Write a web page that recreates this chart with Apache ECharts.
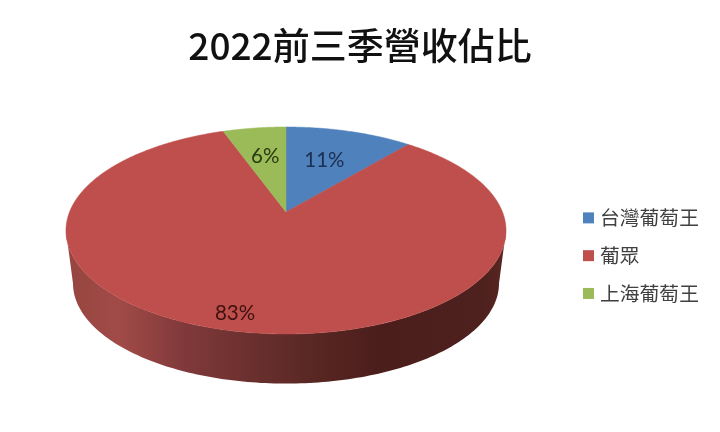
<!DOCTYPE html>
<html>
<head>
<meta charset="utf-8">
<style>html,body{margin:0;padding:0;background:#fff}#c{width:720px;height:432px}</style>
<script src="https://cdn.jsdelivr.net/npm/echarts@6/dist/echarts.min.js"></script>
</head>
<body>
<div id="c"></div>
<script>
const titleText = '2022前三季營收佔比';
const sliceNames = ['台灣葡萄王', '葡眾', '上海葡萄王'];
const sliceValues = [11.1, 83.4, 5.5];
const sliceColors = ['#4F81BD', '#BE4F4C', '#9BBB59'];
const labelColors = ['#1c2f50', '#3f1210', '#2b3a12'];
const labelRadius = [0.6, 0.88, 0.62];
const labelTurn = [-1, 3, 0];

/* perspective pie geometry */
const cx = 286, apexY = 212, kx = 216.5, ky = 100.2, persp = 0.1787;
const wallDrop = 53.5, wallScale = 0.968;
const total = sliceValues.reduce((a, b) => a + b, 0);
const rad = d => d * Math.PI / 180;
function project(deg, r, drop, scale) {
  const X = r * Math.sin(rad(deg)), Y = r * Math.cos(rad(deg)), w = 1 + persp * Y;
  return [cx + scale * kx * X / w, apexY + drop - scale * ky * Y / w];
}
const silhouette = Math.acos(-persp) * 180 / Math.PI;
const wallOffsets = [0, 0.12, 0.27, 0.42, 0.57, 0.72, 0.95, 1];
const wallColors = ['#96453f', '#a14b48', '#80393a', '#6a302e', '#582623', '#4b1e1b', '#4e211e', '#5a2623'];
function startOf(i) {
  let s = 0;
  for (let j = 0; j < i; j++) s += sliceValues[j];
  return s / total * 360;
}
function makeRender(i) {
  return function (params, api) {
    const v = api.value(0);
    const a0 = startOf(i), a1 = a0 + v / total * 360;
    const children = [];
    /* wall: the front part of the rim */
    const w0 = Math.max(a0, silhouette), w1 = Math.min(a1, 360 - silhouette);
    if (w1 > w0) {
      const pts = [];
      for (let a = w0; a < w1; a += 1) pts.push(project(a, 1, 0, 1));
      pts.push(project(w1, 1, 0, 1));
      pts.push(project(w1, 1, wallDrop, wallScale));
      for (let a = w1 - 1; a > w0; a -= 1) pts.push(project(a, 1, wallDrop, wallScale));
      pts.push(project(w0, 1, wallDrop, wallScale));
      children.push({
        type: 'polygon', shape: { points: pts },
        style: {
          fill: new echarts.graphic.LinearGradient(0, 0, 1, 0,
            wallOffsets.map((offset, k) => ({ offset, color: wallColors[k] })))
        }
      });
    }
    /* top face */
    const top = [project(0, 0, 0, 1)];
    for (let a = a0; a < a1; a += 0.5) top.push(project(a, 1, 0, 1));
    top.push(project(a1, 1, 0, 1));
    children.push({
      type: 'polygon', shape: { points: top },
      style: { fill: sliceColors[i], stroke: sliceColors[i], lineWidth: 0.5 }
    });
    /* percentage label */
    const p = project((a0 + a1) / 2 + labelTurn[i], labelRadius[i], 0, 1);
    children.push({
      type: 'text', x: p[0], y: p[1], z2: 10,
      style: {
        text: Math.round(v / total * 100) + '%',
        fill: labelColors[i], font: '20.5px Lato, sans-serif',
        align: 'center', verticalAlign: 'middle'
      }
    });
    return { type: 'group', children };
  };
}
const chart = echarts.init(document.getElementById('c'), null, { renderer: 'canvas' });
chart.setOption({
  animation: false,
  backgroundColor: '#ffffff',
  title: {
    text: titleText, left: 'center', top: 22,
    textStyle: { fontFamily: '"Noto Sans CJK TC"', fontSize: 37, fontWeight: 500, color: '#111111' }
  },
  legend: {
    left: 583, top: 208, padding: 0, orient: 'vertical', itemWidth: 11, itemHeight: 11, itemGap: 18,
    icon: 'rect', data: sliceNames,
    textStyle: { fontFamily: '"Noto Sans CJK TC"', fontSize: 19.8, color: '#404040', padding: [0, 0, 0, 1] }
  },
  series: sliceNames.map((name, i) => ({
    type: 'custom', name, coordinateSystem: 'none', silent: true,
    itemStyle: { color: sliceColors[i] },
    renderItem: makeRender(i),
    data: [[sliceValues[i]]]
  }))
});
</script>
</body>
</html>
